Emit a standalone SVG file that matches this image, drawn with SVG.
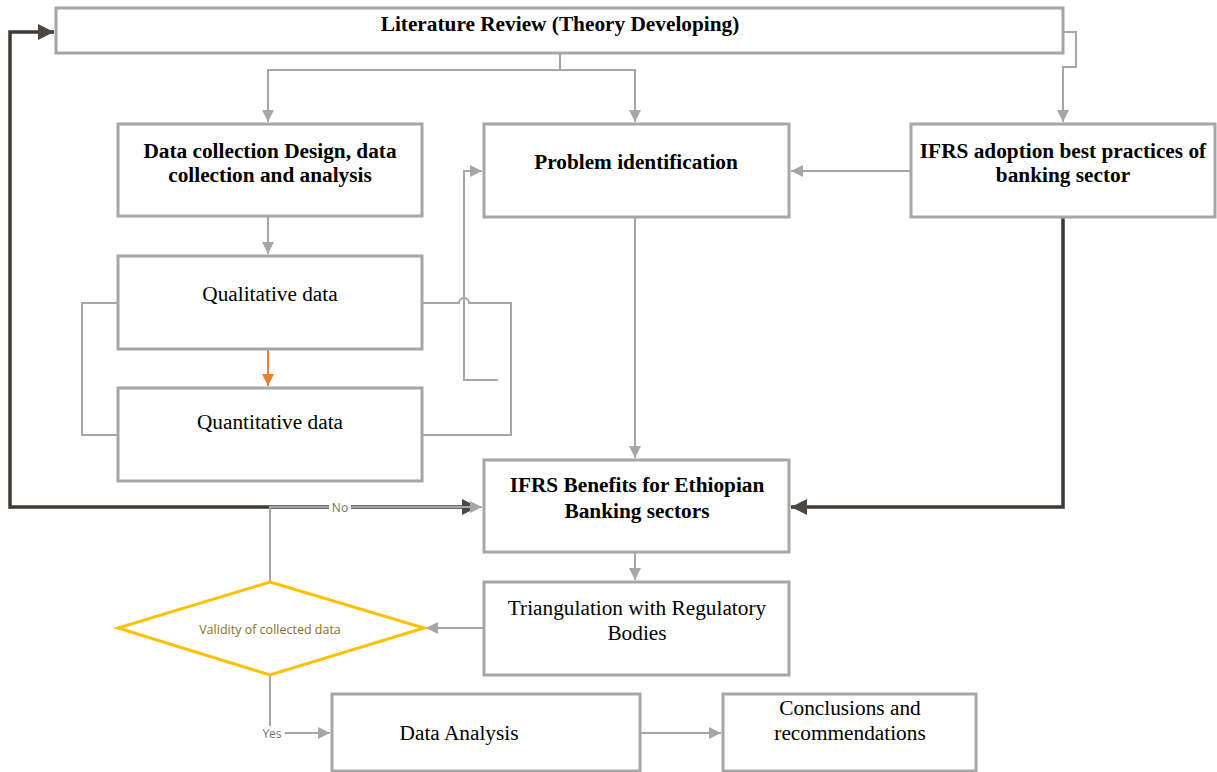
<svg xmlns="http://www.w3.org/2000/svg" width="1217" height="772" viewBox="0 0 1217 772">
<style>
.box{fill:#fff;stroke:#a6a6a6;stroke-width:3}
.t{font-family:"Liberation Serif","Times New Roman",serif;font-size:21.3px;fill:#000;text-anchor:middle}
.b{font-weight:bold}
.c{fill:none;stroke:#a6a6a6;stroke-width:2}
.d{fill:none;stroke:#3f3936;stroke-width:3.5}
.lbl{font-family:"Open Sans","Liberation Sans",sans-serif;font-size:12px;fill:#6f6f6f;text-anchor:middle}
</style>
<defs>
<marker id="ag" markerUnits="userSpaceOnUse" markerWidth="14" markerHeight="12" refX="12" refY="6" orient="auto"><path d="M0,0 L12,6 L0,12 z" fill="#a6a6a6"/></marker>
<marker id="ao" markerUnits="userSpaceOnUse" markerWidth="14" markerHeight="12" refX="12" refY="6" orient="auto"><path d="M0,0 L12,6 L0,12 z" fill="#ed7d31"/></marker>
<marker id="ad" markerUnits="userSpaceOnUse" markerWidth="18" markerHeight="16" refX="16" refY="8" orient="auto"><path d="M0,0 L16,8 L0,16 z" fill="#4d4540"/></marker>
</defs>
<rect width="1217" height="772" fill="#fff"/>
<g id="connectors">
<path class="c" d="M1063,32 H1076 V67 H1063 V122" marker-end="url(#ag)"/>
<path class="c" d="M560,53 V70 H268 V122" marker-end="url(#ag)"/>
<path class="c" d="M560,70 H635 V122" marker-end="url(#ag)"/>
<path class="c" d="M268,216 V254" marker-end="url(#ag)"/>
<path class="c" d="M268,349 V386" style="stroke:#ed7d31" marker-end="url(#ao)"/>
<path class="c" d="M118,303 H82 V435 H118"/>
<path class="c" d="M422,303 H459 A5,5 0 0 1 469,303 H511 V435 H422"/>
<path class="c" d="M498,380 H464 V171 H482" marker-end="url(#ag)"/>
<path class="c" d="M911,171 H791" marker-end="url(#ag)"/>
<path class="c" d="M635,217 V458" marker-end="url(#ag)"/>
<path class="d" d="M1063,217 V507 H791" marker-end="url(#ad)"/>
<path class="d" d="M270,507 H10 V32 H54" marker-end="url(#ad)"/>
<path class="d" d="M270,507 H478" marker-end="url(#ad)"/>
<path class="c" d="M270,582 V507 H482" marker-end="url(#ag)"/>
<rect x="329" y="500" width="22" height="14" fill="#fff"/>
<text class="lbl" x="340" y="512">No</text>
<path class="c" d="M635,552 V580" marker-end="url(#ag)"/>
<path class="c" d="M484,628 H426" marker-end="url(#ag)"/>
<path class="c" d="M270,675 V733 H330" marker-end="url(#ag)"/>
<rect x="259" y="726" width="26" height="14" fill="#fff"/>
<text class="lbl" x="272" y="738">Yes</text>
<path class="c" d="M640,733 H721" marker-end="url(#ag)"/>
</g>
<g id="lit"><rect class="box" x="56" y="8" width="1007" height="45"/><text class="t b" x="560" y="31">Literature Review (Theory Developing)</text></g>
<g id="design"><rect class="box" x="118" y="124" width="304" height="92"/><text class="t b" x="270" y="158">Data collection Design, data</text><text class="t b" x="270" y="182">collection and analysis</text></g>
<g id="problem"><rect class="box" x="484" y="124" width="305" height="93"/><text class="t b" x="636" y="169">Problem identification</text></g>
<g id="bestpractice"><rect class="box" x="911" y="124" width="304" height="93"/><text class="t b" x="1063" y="158">IFRS adoption best practices of</text><text class="t b" x="1063" y="182">banking sector</text></g>
<g id="qual"><rect class="box" x="118" y="256" width="304" height="93"/><text class="t" x="270" y="301">Qualitative data</text></g>
<g id="quant"><rect class="box" x="118" y="388" width="304" height="93"/><text class="t" x="270" y="429">Quantitative data</text></g>
<g id="benefits"><rect class="box" x="484" y="460" width="305" height="92"/><text class="t b" x="637" y="492">IFRS Benefits for Ethiopian</text><text class="t b" x="637" y="518">Banking sectors</text></g>
<g id="triang"><rect class="box" x="484" y="582" width="305" height="93"/><text class="t" x="637" y="615">Triangulation with Regulatory</text><text class="t" x="637" y="640">Bodies</text></g>
<g id="validity"><path d="M270,582 L424,628 L270,675 L118,628 z" fill="#fff" stroke="#ffc000" stroke-width="3"/><text x="270" y="634" font-family="'Open Sans','Liberation Sans',sans-serif" font-size="12.5" fill="#8d6e1d" text-anchor="middle">Validity of collected data</text></g>
<g id="analysis"><rect class="box" x="332" y="694" width="308" height="77"/><text class="t" x="459" y="740">Data Analysis</text></g>
<g id="conclusions"><rect class="box" x="723" y="694" width="253" height="77"/><text class="t" x="850" y="715">Conclusions and</text><text class="t" x="850" y="740">recommendations</text></g>
</svg>
